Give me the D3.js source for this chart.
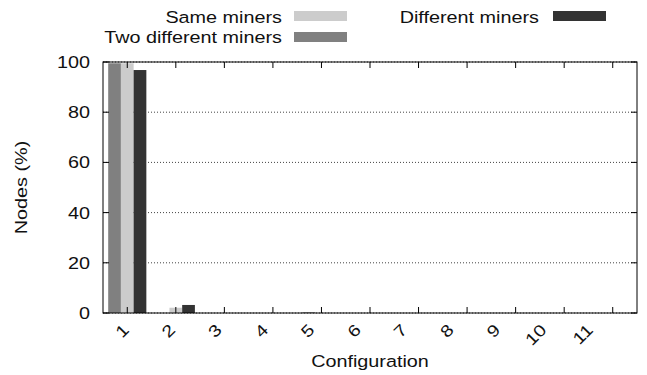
<!DOCTYPE html>
<html>
<head>
<meta charset="utf-8">
<script src="https://cdn.jsdelivr.net/npm/d3@7"></script>
<style>
  html, body { margin: 0; padding: 0; background: #fff; }
  text { font-family: "Liberation Sans", Arial, Helvetica, sans-serif; fill: #111; }
</style>
</head>
<body>
<svg id="chart" width="647" height="375"></svg>
<script>
// Share of nodes (%) per configuration, for each mining setup
const configurations = [1, 2, 3, 4, 5, 6, 7, 8, 9, 10, 11];
const twoDifferentMiners = [99.5, 0, 0, 0, 0.3, 0, 0, 0, 0, 0, 0];
const sameMiners         = [99.5, 2.1, 0, 0, 0, 0, 0, 0, 0, 0, 0];
const differentMiners    = [96.8, 3.2, 0, 0, 0, 0, 0, 0, 0, 0, 0];
const yTicks = [0, 20, 40, 60, 80, 100];

const series = [
  { name: "Two different miners", values: twoDifferentMiners, color: "#808080", offset: -1 },
  { name: "Same miners",          values: sameMiners,         color: "#cccccc", offset: 0 },
  { name: "Different miners",     values: differentMiners,    color: "#333333", offset: 1 }
];

const svg = d3.select("#chart");
const margin = { left: 103, right: 10, top: 62, bottom: 62 };
const W = 647, H = 375;
const FS = 16.5, SX = 1.2; // font size and horizontal glyph stretch

const x = d3.scaleLinear().domain([0.5, 11.5]).range([margin.left, W - margin.right]);
const y = d3.scaleLinear().domain([0, 100]).range([H - margin.bottom, margin.top]);
// tick labels drift slightly left of their ticks
const labelX = d3.scaleLinear().domain([1, 11]).range([128, 592]);

const barW = 0.262;
const plot = svg.append("g");

// dotted grid
plot.selectAll("line.grid").data(yTicks).join("line")
  .attr("class", "grid")
  .attr("x1", x(0.5)).attr("x2", x(11.5))
  .attr("y1", d => y(d)).attr("y2", d => y(d))
  .attr("stroke", "#444").attr("stroke-width", 1)
  .attr("stroke-dasharray", "1,2");

// bars
series.forEach(s => {
  plot.append("g").selectAll("rect").data(configurations).join("rect")
    .attr("x", (c) => x(c + (s.offset - 0.5) * barW))
    .attr("width", x(barW) - x(0))
    .attr("y", (c, i) => y(s.values[i]))
    .attr("height", (c, i) => y(0) - y(s.values[i]))
    .attr("fill", s.color);
});

// frame
plot.append("rect")
  .attr("x", x(0.5)).attr("y", y(100))
  .attr("width", x(11.5) - x(0.5)).attr("height", y(0) - y(100))
  .attr("fill", "none").attr("stroke", "#000").attr("stroke-width", 1);

// inward ticks, mirrored on opposite sides
const tl = 6;
plot.selectAll("line.yt").data(yTicks).join("line")
  .attr("x1", x(0.5)).attr("x2", x(0.5) + tl)
  .attr("y1", d => y(d)).attr("y2", d => y(d)).attr("stroke", "#000");
plot.selectAll("line.yt2").data(yTicks).join("line")
  .attr("x1", x(11.5)).attr("x2", x(11.5) - tl)
  .attr("y1", d => y(d)).attr("y2", d => y(d)).attr("stroke", "#000");
plot.selectAll("line.xt").data(configurations).join("line")
  .attr("x1", d => x(d)).attr("x2", d => x(d))
  .attr("y1", y(0)).attr("y2", y(0) - tl).attr("stroke", "#000");
plot.selectAll("line.xt2").data(configurations).join("line")
  .attr("x1", d => x(d)).attr("x2", d => x(d))
  .attr("y1", y(100)).attr("y2", y(100) + tl).attr("stroke", "#000");

function label(g, txt, tx, ty, anchor, rot) {
  return g.append("text")
    .attr("transform", `translate(${tx},${ty}) rotate(${rot || 0}) scale(${SX},1)`)
    .attr("text-anchor", anchor)
    .attr("font-size", FS)
    .text(txt);
}

// y tick labels
yTicks.forEach(t => label(svg, t, 90, y(t) + 6, "end"));

// x tick labels, rotated
configurations.forEach(c => label(svg, c, labelX(c) + 2, 331, "end", -45));

// axis titles
label(svg, "Configuration", (x(0.5) + x(11.5)) / 2, 367, "middle");
label(svg, "Nodes (%)", 27, (y(0) + y(100)) / 2, "middle", -90);

// legend
const legend = [
  { s: series[1], tx: 282, ty: 22.5, rx: 294, ry: 11 },
  { s: series[0], tx: 282, ty: 43,   rx: 294, ry: 32 },
  { s: series[2], tx: 539, ty: 22.5, rx: 553, ry: 11 }
];
legend.forEach(l => {
  label(svg, l.s.name, l.tx, l.ty, "end");
  svg.append("rect").attr("x", l.rx).attr("y", l.ry)
    .attr("width", 53).attr("height", 10).attr("fill", l.s.color);
});
</script>
</body>
</html>
